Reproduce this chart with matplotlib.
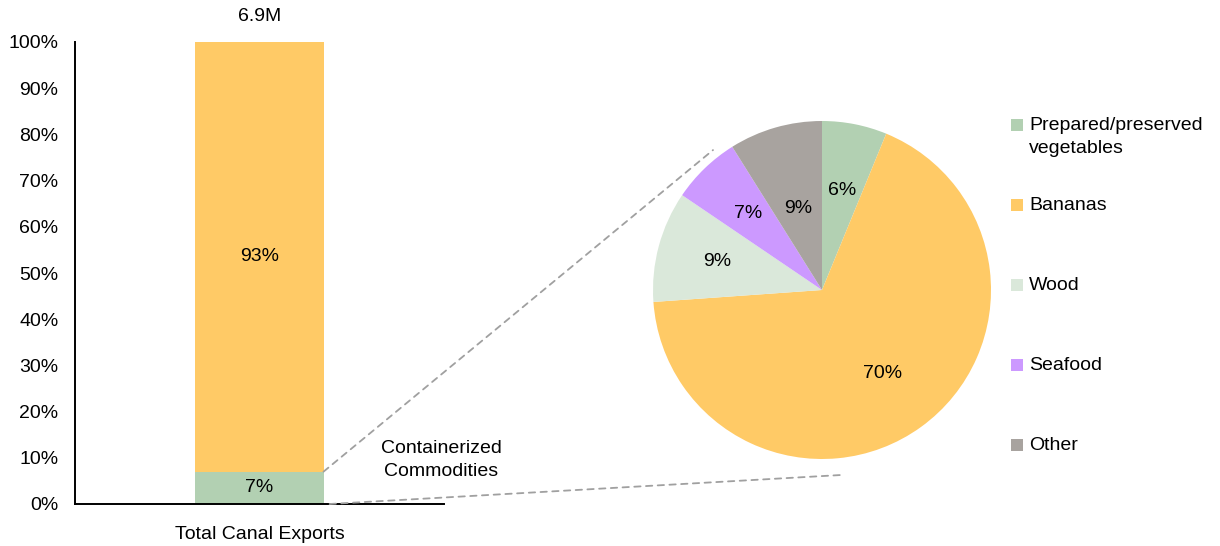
import numpy as np
import matplotlib
matplotlib.use("Agg")
from matplotlib import pyplot as plt
from matplotlib.patches import ConnectionPatch, Rectangle

plt.rcParams['font.family'] = ['Liberation Sans', 'DejaVu Sans']

# bar data (share of total canal exports)
bar_name = "Total Canal Exports"
bar_total = "6.9M"
bar_parts = ["Containerized", "Bananas"]
bar_values = [7, 93]
bar_colors = ["#B2D0B2", "#FFCA66"]

# pie data (containerized commodities)
pie_names = ["Prepared/preserved\nvegetables", "Bananas", "Wood", "Seafood", "Other"]
pie_values = [6.2, 67.6, 10.6, 6.6, 8.9]
pie_labels = ["6%", "70%", "9%", "7%", "9%"]
pie_colors = ["#B2D0B2", "#FFCA66", "#DAE8DA", "#CC99FF", "#A8A39F"]
label_radius = [0.6, 0.61, 0.64, 0.63, 0.5]

W, H = 1220, 546
fig = plt.figure(figsize=(12.2, 5.46), dpi=100)
fs = 14

# ---- stacked bar ----
ax1 = fig.add_axes([75 / W, 1 - 504 / H, (444 - 75) / W, (504 - 42) / H])
bw = 0.694
bottom = 0
for v, c in zip(bar_values, bar_colors):
    ax1.bar(0, v, width=bw, bottom=bottom, color=c)
    ax1.text(0, bottom + v / 2, f"{v}%", ha='center', va='center', fontsize=fs)
    bottom += v
ax1.annotate(bar_total, xy=(0, bottom), xytext=(0, 12), textcoords='offset points',
             ha='center', va='bottom', fontsize=fs)
ax1.set_xlim(-1, 1)
ax1.set_ylim(0, 100)
ax1.set_yticks(np.arange(0, 101, 10))
ax1.set_yticklabels([f"{t}%" for t in range(0, 101, 10)], fontsize=fs)
ax1.set_xticks([0])
ax1.set_xticklabels([bar_name], fontsize=fs)
ax1.tick_params(axis='y', length=0, pad=12)
ax1.tick_params(axis='x', length=0, pad=16)
for s in ['top', 'right']:
    ax1.spines[s].set_visible(False)
for s in ['left', 'bottom']:
    ax1.spines[s].set_linewidth(1.4)
    ax1.spines[s].set_color('black')

# ---- pie ----
r_px = 169
cx, cy = 822, 290
ax2 = fig.add_axes([(cx - r_px) / W, 1 - (cy + r_px) / H, 2 * r_px / W, 2 * r_px / H])
wedges, _ = ax2.pie(pie_values, colors=pie_colors, startangle=90, counterclock=False,
                    radius=1, wedgeprops=dict(linewidth=0))
total = sum(pie_values)
start = 90
for v, lab, rr in zip(pie_values, pie_labels, label_radius):
    mid = np.deg2rad(start - v / total * 360 / 2)
    ax2.text(rr * np.cos(mid), rr * np.sin(mid), lab, ha='center', va='center', fontsize=fs)
    start -= v / total * 360
ax2.set_xlim(-1, 1)
ax2.set_ylim(-1, 1)
ax2.axis('off')

# ---- connector lines ----
dash = dict(color='#A0A0A0', linestyle=(0, (3.5, 3)), linewidth=1.3)
con1 = ConnectionPatch(xyA=(bw / 2, bar_values[0]), coordsA=ax1.transData,
                       xyB=(-0.645, 0.828), coordsB=ax2.transData, **dash)
con2 = ConnectionPatch(xyA=(0.38, 0), coordsA=ax1.transData,
                       xyB=(0.107, -1.095), coordsB=ax2.transData, **dash)
fig.add_artist(con1)
fig.add_artist(con2)

fig.text(441 / W, 1 - 460 / H, "Containerized\nCommodities", ha='center', va='center',
         fontsize=fs, linespacing=1.4)

# ---- legend ----
row_y = [125, 205, 285, 365, 445]
for name, c, y in zip(pie_names, pie_colors, row_y):
    fig.add_artist(Rectangle((1011 / W, 1 - (y + 6) / H), 12 / W, 12 / H,
                             transform=fig.transFigure, color=c, linewidth=0))
    fig.text(1029 / W, 1 - (y - 8) / H, name, ha='left', va='top', fontsize=fs,
             linespacing=1.45)

plt.savefig("out.png", dpi=100)
